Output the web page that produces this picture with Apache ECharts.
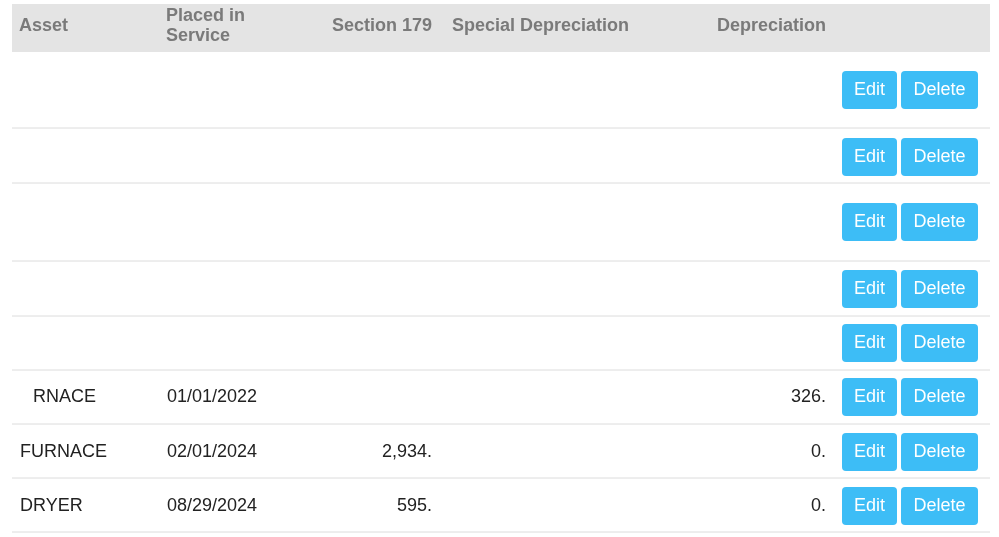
<!DOCTYPE html>
<html><head><meta charset="utf-8">
<script src="https://cdn.jsdelivr.net/npm/echarts@6/dist/echarts.min.js"></script>
<style>html,body{margin:0;padding:0;background:#fff}#c{width:999px;height:537px}</style>
</head><body><div id="c"></div>
<script>
const headers = ["Asset", "Placed in\nService", "Section 179", "Special Depreciation", "Depreciation"];
const assets = ["", "", "", "", "", "RNACE", "FURNACE", "DRYER"];
const placed = ["", "", "", "", "", "01/01/2022", "02/01/2024", "08/29/2024"];
const section179 = ["", "", "", "", "", "", "2,934.", "595."];
const special = ["", "", "", "", "", "", "", ""];
const depreciation = ["", "", "", "", "", "326.", "0.", "0."];
const rowCenters = [90, 157, 222, 289, 343, 397, 452, 506];
const rowBottoms = [128, 183, 261, 316, 370, 424, 478, 532];

const chart = echarts.init(document.getElementById('c'));
const font = 'Liberation Sans, Arial, sans-serif';
const g = [];
g.push({type:'rect', shape:{x:12,y:4,width:978,height:48}, style:{fill:'#e4e4e4'}});
const hx = [19,166,432,452,826], ha = ['left','left','right','left','right'];
headers.forEach((h,i)=>g.push({type:'text', x:hx[i], y:26, style:{text:h, fill:'#7a7a7a', font:'bold 18px '+font, align:ha[i], verticalAlign:'middle', lineHeight:20}}));
rowCenters.forEach((cy,i)=>{
  g.push({type:'line', shape:{x1:12,y1:rowBottoms[i],x2:990,y2:rowBottoms[i]}, style:{stroke:'#dcdcdc',lineWidth:1}});
  const t = (x,s,a)=>g.push({type:'text', x, y:cy, style:{text:s, fill:'#222', font:'18px '+font, align:a, verticalAlign:'middle'}});
  t(i===5?33:20,assets[i],'left'); t(167,placed[i],'left'); t(432,section179[i],'right'); t(452,special[i],'left'); t(826,depreciation[i],'right');
  g.push({type:'rect', shape:{x:842,y:cy-19,width:55,height:38,r:4}, style:{fill:'#3dbdf6'}});
  g.push({type:'text', x:869.5, y:cy, style:{text:'Edit', fill:'#fff', font:'18px '+font, align:'center', verticalAlign:'middle'}});
  g.push({type:'rect', shape:{x:901,y:cy-19,width:77,height:38,r:4}, style:{fill:'#3dbdf6'}});
  g.push({type:'text', x:939.5, y:cy, style:{text:'Delete', fill:'#fff', font:'18px '+font, align:'center', verticalAlign:'middle'}});
});
chart.setOption({animation:false, graphic:g});
</script></body></html>
